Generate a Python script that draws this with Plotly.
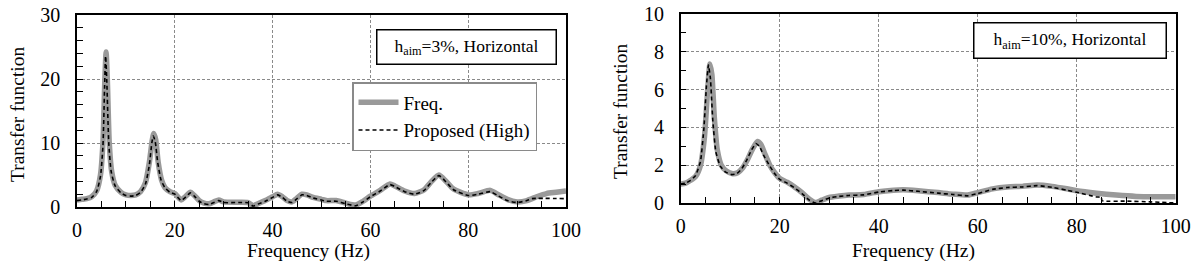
import plotly.graph_objects as go

# ---------------- Data ----------------
# Left panel: h_aim = 3 %, Horizontal
left_freq_f = [0, 1, 2, 3, 4, 4.8, 5.3, 5.7, 5.95, 6.2, 6.6, 7.1, 7.8, 9, 10, 11, 12, 13, 14, 14.8,
               15.4, 15.7, 16.1, 16.6, 17.3, 18, 19, 20, 20.5, 21.3, 22, 23.2, 24, 25, 26, 27, 28, 29,
               30, 33, 35, 36, 37, 38.5, 40, 41, 42, 43, 44, 45, 46, 47, 48.3, 50, 51, 53, 55, 57,
               58.5, 60, 62, 64, 65, 67, 69, 71, 72.5, 74, 75.5, 77, 80, 82, 84.5, 86, 88, 90, 92,
               94, 96, 98, 100]
left_freq_v = [1.1, 1.2, 1.3, 1.6, 2.5, 5.0, 10.0, 20.0, 24.2, 20.0, 10.0, 5.5, 3.4, 2.3, 1.9, 1.8, 1.9,
               2.4, 3.8, 7.0, 10.5, 11.5, 10.5, 7.0, 4.2, 3.0, 2.4, 2.1, 1.7, 1.1, 1.5, 2.3, 1.8, 1.0,
               0.6, 0.5, 0.8, 1.1, 0.8, 0.75, 0.7, 0.2, 0.5, 1.0, 1.6, 2.0, 1.6, 1.0, 0.8, 1.4, 2.0,
               1.9, 1.5, 1.2, 1.0, 1.0, 0.6, 0.3, 0.9, 1.7, 2.6, 3.6, 3.3, 2.5, 2.1, 2.7, 4.0, 5.0,
               4.0, 2.8, 1.9, 2.1, 2.6, 2.0, 1.2, 0.8, 1.0, 1.6, 2.1, 2.3, 2.5]

left_prop_f = [0, 1, 2, 3, 4, 4.8, 5.3, 5.65, 5.85, 6.1, 6.5, 7.0, 7.8, 9, 10, 11, 12, 13, 14, 14.8,
               15.3, 15.6, 16.0, 16.5, 17.2, 18, 19, 20, 20.5, 21.3, 22, 23.2, 24, 25, 26, 27, 28, 29,
               30, 33, 35, 36, 37, 38.5, 40, 41, 42, 43, 44, 45, 46, 47, 48.3, 50, 51, 53, 55, 57,
               58.5, 60, 62, 64, 65, 67, 69, 71, 72.5, 74, 75.5, 77, 80, 82, 84.5, 86, 88, 90, 92,
               93, 100]
left_prop_v = [1.0, 1.1, 1.25, 1.5, 2.4, 4.8, 9.5, 19.0, 23.6, 19.5, 10.0, 5.5, 3.3, 2.2, 1.8, 1.7, 1.8,
               2.3, 3.6, 6.6, 10.0, 11.1, 10.2, 7.0, 4.2, 3.0, 2.3, 2.0, 1.6, 1.0, 1.4, 2.2, 1.7, 0.9,
               0.5, 0.4, 0.7, 1.0, 0.7, 0.7, 0.65, 0.15, 0.45, 0.9, 1.5, 1.9, 1.5, 0.9, 0.7, 1.3, 1.9,
               1.8, 1.4, 1.1, 0.9, 0.9, 0.5, 0.2, 0.8, 1.6, 2.5, 3.5, 3.2, 2.4, 2.0, 2.6, 3.9, 4.9,
               3.9, 2.7, 1.8, 2.0, 2.4, 1.8, 1.0, 0.7, 1.0, 1.3, 1.3]

# Right panel: h_aim = 10 %, Horizontal
right_freq_f = [0, 1, 2, 3, 4, 4.8, 5.4, 5.9, 6.3, 6.8, 7.4, 8.2, 9.2, 10.5, 11.5, 12.5, 13.5, 14.5,
                15.5, 16.2, 17, 18, 19, 20, 21.5, 23, 24.5, 26, 27.3, 28.5, 30, 32, 34, 37, 40, 43,
                45, 48, 52, 55, 58, 60, 63, 66, 69, 72, 75, 78, 80, 84, 88, 92, 96, 100]
right_freq_v = [1.0, 1.05, 1.2, 1.4, 2.0, 3.5, 5.8, 7.35, 6.8, 4.5, 2.8, 2.0, 1.7, 1.55, 1.6, 1.85,
                2.3, 2.85, 3.25, 3.1, 2.6, 2.0, 1.6, 1.3, 1.1, 0.85, 0.55, 0.2, 0.02, 0.15, 0.3,
                0.37, 0.42, 0.45, 0.6, 0.68, 0.7, 0.65, 0.55, 0.47, 0.42, 0.55, 0.75, 0.85, 0.88,
                0.95, 0.88, 0.75, 0.65, 0.52, 0.42, 0.35, 0.33, 0.33]

right_prop_f = [0, 1, 2, 3, 4, 4.7, 5.2, 5.6, 6.0, 6.5, 7.1, 8.0, 9.0, 10.3, 11.3, 12.3, 13.3, 14.3,
                15.2, 15.9, 16.8, 18, 19, 20, 21.5, 23, 24.5, 26, 27.2, 28.5, 30, 32, 34, 37, 40, 43,
                45, 48, 52, 55, 58, 60, 63, 66, 69, 72, 75, 78, 80, 84, 85, 85.1, 90, 95, 100]
right_prop_v = [1.0, 1.05, 1.2, 1.45, 2.2, 4.0, 6.2, 7.3, 6.6, 4.3, 2.7, 1.95, 1.65, 1.5, 1.55, 1.8,
                2.25, 2.8, 3.15, 3.0, 2.5, 1.95, 1.55, 1.25, 1.05, 0.8, 0.5, 0.15, 0.0, 0.12, 0.27,
                0.35, 0.4, 0.43, 0.58, 0.66, 0.68, 0.62, 0.52, 0.45, 0.38, 0.5, 0.72, 0.82, 0.85,
                0.92, 0.83, 0.68, 0.57, 0.32, 0.3, 0.12, 0.1, 0.06, 0.0]

x_ticks = [0, 20, 40, 60, 80, 100]
left_y_ticks = [0, 10, 20, 30]
right_y_ticks = [0, 2, 4, 6, 8, 10]

series_names = ["Freq.", "Proposed (High)"]
left_label = "h<sub>aim</sub>=3%, Horizontal"
right_label = "h<sub>aim</sub>=10%, Horizontal"
x_title = "Frequency (Hz)"
y_title = "Transfer function"

# ---------------- Styling ----------------
FONT = "Liberation Serif, Times New Roman, serif"
GRAY = "#9a9a9a"
GRID = "#8a8a8a"
TICK_SIZE = 20
TITLE_SIZE = 19.5

W, H = 1192, 263


def px_x(p):
    return p / W


def px_y(p):
    return 1 - p / H


fig = go.Figure()

fig.add_trace(go.Scatter(x=left_freq_f, y=left_freq_v, mode="lines", name=series_names[0],
                         line=dict(color=GRAY, width=5.5, shape="spline", smoothing=0.6),
                         xaxis="x", yaxis="y", showlegend=True))
fig.add_trace(go.Scatter(x=left_prop_f, y=left_prop_v, mode="lines", name=series_names[1],
                         line=dict(color="black", width=1.6, dash="4px,3px", shape="spline", smoothing=0.6),
                         xaxis="x", yaxis="y", showlegend=True))
fig.add_trace(go.Scatter(x=right_freq_f, y=right_freq_v, mode="lines", name=series_names[0],
                         line=dict(color=GRAY, width=5.5, shape="spline", smoothing=0.6),
                         xaxis="x2", yaxis="y2", showlegend=False))
fig.add_trace(go.Scatter(x=right_prop_f, y=right_prop_v, mode="lines", name=series_names[1],
                         line=dict(color="black", width=1.6, dash="4px,3px", shape="spline", smoothing=0.4),
                         xaxis="x2", yaxis="y2", showlegend=False))


def xaxis(domain, anchor):
    return dict(domain=domain, anchor=anchor, range=[0, 100], tickvals=x_ticks, automargin=False,
                ticks="inside", ticklen=6, tickcolor="black", tickwidth=1, ticklabeloverflow="allow",
                minor=dict(dtick=5, tick0=0, ticks="inside", ticklen=6, tickcolor="black", showgrid=False),
                showline=True, linecolor="black", linewidth=1.5, mirror=True,
                showgrid=True, gridcolor=GRID, griddash="3px,2px", gridwidth=1, zeroline=False,
                tickfont=dict(family=FONT, size=TICK_SIZE, color="black"), ticklabelstandoff=4)


def yaxis(domain, anchor, rng, ticks, minor):
    return dict(domain=domain, anchor=anchor, range=rng, tickvals=ticks, automargin=False,
                ticks="inside", ticklen=6, tickcolor="black", tickwidth=1, ticklabeloverflow="allow",
                minor=dict(dtick=minor, tick0=0, ticks="inside", ticklen=6, tickcolor="black", showgrid=False),
                showline=True, linecolor="black", linewidth=1.5, mirror=True,
                showgrid=True, gridcolor=GRID, griddash="3px,2px", gridwidth=1, zeroline=False,
                tickfont=dict(family=FONT, size=TICK_SIZE, color="black"), ticklabelstandoff=11)


def title_ann(text, x, y, angle=0):
    return dict(text=text, xref="paper", yref="paper", x=px_x(x), y=px_y(y),
                xanchor="center", yanchor="middle", showarrow=False, textangle=angle,
                font=dict(family=FONT, size=TITLE_SIZE, color="black"))


def label_ann(text, x, y, w, h):
    return dict(text=text, xref="paper", yref="paper", x=px_x(x), y=px_y(y),
                xanchor="center", yanchor="middle", showarrow=False,
                font=dict(family=FONT, size=17.5, color="black"),
                bordercolor="black", borderwidth=1.5, borderpad=2, bgcolor="white",
                width=w, height=h)


fig.update_layout(
    width=W, height=H,
    margin=dict(l=0, r=0, t=0, b=0),
    paper_bgcolor="white", plot_bgcolor="white",
    font=dict(family=FONT, color="black"),
    xaxis=xaxis([px_x(77), px_x(566)], "y"),
    yaxis=yaxis([px_y(207), px_y(15)], "x", [0, 30], left_y_ticks, 2),
    xaxis2=xaxis([px_x(680.7), px_x(1175.7)], "y2"),
    yaxis2=yaxis([px_y(203), px_y(14)], "x2", [0, 10], right_y_ticks, 1),
    legend=dict(x=px_x(352), y=px_y(82), xanchor="left", yanchor="top",
                bgcolor="white", bordercolor="#8a8a8a", borderwidth=1.5,
                font=dict(family=FONT, size=19, color="black"),
                tracegroupgap=0, itemwidth=40),
    annotations=[
        label_ann(left_label, 466, 47, 174, 29),
        label_ann(right_label, 1069.5, 40.5, 187, 30),
        title_ann(x_title, 308, 251),
        title_ann(x_title, 913, 251),
        title_ann(y_title, 17, 115, -90),
        title_ann(y_title, 620, 112, -90),
    ],
)

fig.write_html("out.html", config={"displayModeBar": False},
               post_script="document.body.style.margin='0';document.body.style.overflow='hidden';")
